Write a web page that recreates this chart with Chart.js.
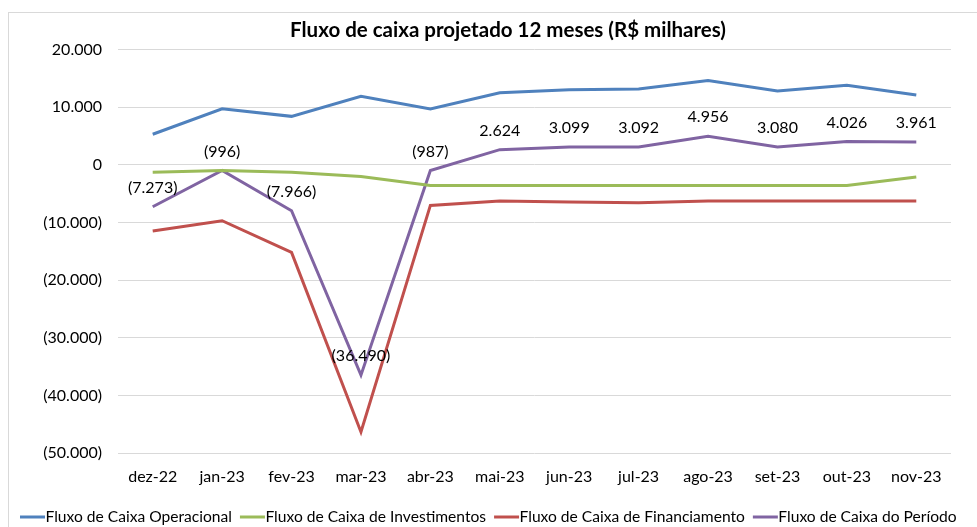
<!DOCTYPE html>
<html>
<head>
<meta charset="utf-8">
<script src="https://cdn.jsdelivr.net/npm/chart.js@4.4.1/dist/chart.umd.min.js"></script>
<style>
  html, body { margin: 0; padding: 0; background: #fff; overflow: hidden; }
  #wrap { position: relative; width: 977px; height: 527px; }
  #frame { position: absolute; left: 8px; top: 12px; width: 1100px; height: 700px; border: 1px solid #d9d9d9; box-sizing: border-box; }
  canvas { position: absolute; left: 0; top: 0; }
</style>
</head>
<body>
<div id="wrap">
  <div id="frame"></div>
  <canvas id="c" width="977" height="527"></canvas>
</div>
<script>
const categories = ['dez-22','jan-23','fev-23','mar-23','abr-23','mai-23','jun-23','jul-23','ago-23','set-23','out-23','nov-23'];
const operacional = [5300, 9700, 8400, 11900, 9700, 12500, 13000, 13150, 14600, 12800, 13800, 12100];
const investimentos = [-1300, -1000, -1300, -2050, -3600, -3600, -3600, -3600, -3600, -3600, -3600, -2100];
const financiamento = [-11500, -9700, -15200, -46350, -7050, -6300, -6450, -6600, -6300, -6300, -6300, -6300];
const periodo = [-7273, -996, -7966, -36490, -987, 2624, 3099, 3092, 4956, 3080, 4026, 3961];
const seriesNames = ['Fluxo de Caixa Operacional','Fluxo de Caixa de Investimentos','Fluxo de Caixa de Financiamento','Fluxo de Caixa do Período'];
const yTicks = [20000, 10000, 0, -10000, -20000, -30000, -40000, -50000];
const titleText = 'Fluxo de caixa projetado 12 meses (R$ milhares)';

const FONT = 'Lato, "Open Sans", sans-serif';

function fmt(v) {
  const s = Math.abs(Math.round(v)).toString().replace(/\B(?=(\d{3})+(?!\d))/g, '.');
  return v < 0 ? '(' + s + ')' : s;
}

const labelPlugin = {
  id: 'pointLabels',
  afterDatasetsDraw(chart) {
    const ctx = chart.ctx;
    const meta = chart.getDatasetMeta(3);
    ctx.save();
    ctx.font = '16px ' + FONT;
    ctx.fillStyle = '#000';
    ctx.textAlign = 'center';
    ctx.textBaseline = 'middle';
    meta.data.forEach((pt, i) => {
      ctx.fillText(fmt(periodo[i]), pt.x, pt.y - 19);
    });
    ctx.restore();
  }
};

const titleLegendPlugin = {
  id: 'titleLegend',
  afterDraw(chart) {
    const ctx = chart.ctx;
    ctx.save();
    ctx.font = 'bold 20.5px ' + FONT;
    ctx.fillStyle = '#000';
    ctx.textAlign = 'center';
    ctx.textBaseline = 'middle';
    ctx.fillText(titleText, 508, 30);
    // legend
    ctx.font = '15.6px ' + FONT;
    ctx.textAlign = 'left';
    let x = 20;
    const y = 517;
    chart.data.datasets.forEach(d => {
      ctx.strokeStyle = d.borderColor;
      ctx.lineWidth = 3;
      ctx.beginPath();
      ctx.moveTo(x, y);
      ctx.lineTo(x + 25, y);
      ctx.stroke();
      ctx.fillStyle = '#000';
      ctx.fillText(d.label, x + 25.5, y);
      x += 25.5 + ctx.measureText(d.label).width + 8;
    });
    ctx.restore();
  }
};

function ds(label, data, color) {
  return {
    label, data,
    borderColor: color, backgroundColor: color,
    borderWidth: 3, pointRadius: 0, pointHoverRadius: 0,
    tension: 0, fill: false
  };
}

new Chart(document.getElementById('c'), {
  type: 'line',
  data: {
    labels: categories,
    datasets: [
      ds(seriesNames[0], operacional, '#4F81BD'),
      ds(seriesNames[1], investimentos, '#9BBB59'),
      ds(seriesNames[2], financiamento, '#C0504D'),
      ds(seriesNames[3], periodo, '#8064A2')
    ]
  },
  options: {
    responsive: false,
    animation: false,
    layout: { padding: { left: 0, right: 0, top: 49.5, bottom: 24 } },
    plugins: {
      title: { display: false },
      legend: { display: false },
      tooltip: { enabled: false }
    },
    scales: {
      x: {
        grid: { display: false, drawTicks: false },
        border: { display: false },
        offset: true,
        afterFit(s) { s.height = 50; },
        ticks: { color: '#000', font: { family: FONT, size: 16 }, padding: 14, maxRotation: 0 }
      },
      y: {
        min: -50000, max: 20000,
        afterFit(s) { s.width = 118; },
        afterBuildTicks(s) { s.ticks = yTicks.map(v => ({ value: v })); },
        grid: { color: '#d9d9d9', lineWidth: 1, drawTicks: false },
        border: { display: false },
        ticks: { color: '#000', font: { family: FONT, size: 16 }, padding: 16, callback: v => fmt(v) }
      },
      yr: {
        position: 'right',
        min: -50000, max: 20000,
        afterFit(s) { s.width = 26; },
        grid: { display: false, drawTicks: false },
        border: { display: false },
        ticks: { display: false }
      }
    }
  },
  plugins: [labelPlugin, titleLegendPlugin]
});
</script>
</body>
</html>
